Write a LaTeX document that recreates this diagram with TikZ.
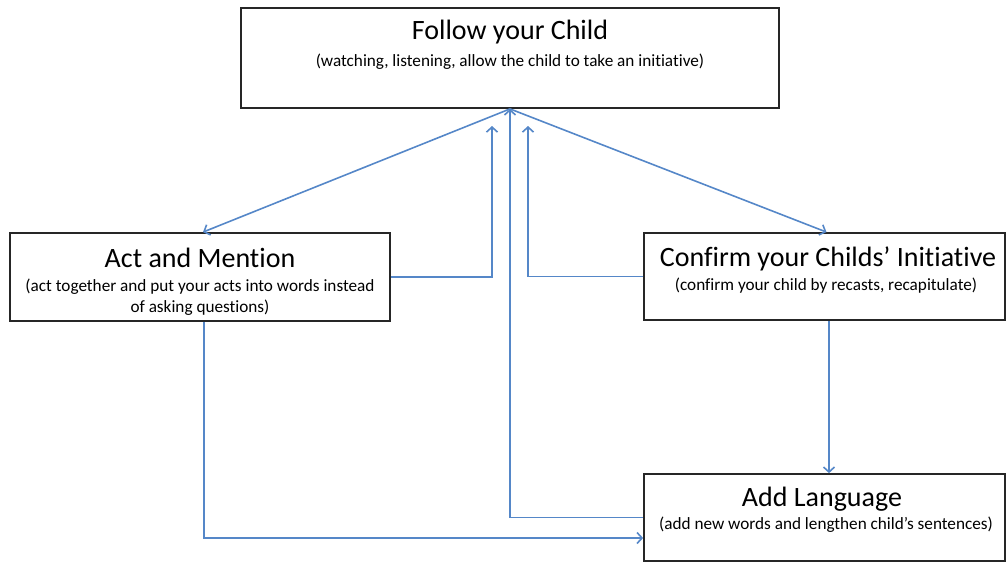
\documentclass[tikz,border=0pt]{standalone}
\usepackage{fontspec}
\setmainfont[Ligatures=NoCommon]{Carlito}
\usetikzlibrary{arrows.meta}
\definecolor{connc}{RGB}{85,135,200}
\begin{document}
\begin{tikzpicture}[x=1pt,y=-1pt,
  box/.style={draw=black!85,line width=1.8pt,rectangle,inner sep=0pt},
  conn/.style={draw=connc,line width=1.6pt,-{Straight Barb[length=5pt,width=11pt,line width=1.6pt]}},
  ttl/.style={font=\fontsize{28}{32}\selectfont},
  sub/.style={font=\fontsize{17.2}{21}\selectfont,align=center}]
\useasboundingbox (0,0) rectangle (1007,563);
% boxes
\node[box,minimum width=538pt,minimum height=100pt] (follow) at (510,58) {};
\node[box,minimum width=380pt,minimum height=88pt] (act) at (200,277) {};
\node[box,minimum width=361pt,minimum height=87pt] (confirm) at (824.5,276.5) {};
\node[box,minimum width=361pt,minimum height=87pt] (add) at (824.5,517.5) {};
% texts
\node[ttl] (ft) at (510,32) {Follow your Child};
\node[sub] (fs) at (510,62) {(watching, listening, allow the child to take an initiative)};
\node[ttl] (at) at (200,258) {Act and Mention};
\node[sub] (as) at (200,297) {(act together and put your acts into words instead\\of asking questions)};
\node[ttl] (ct) at (828,259) {Confirm your Childs’ Initiative};
\node[sub] (cs) at (826,286) {(confirm your child by recasts, recapitulate)};
\node[ttl] (lt) at (822,499) {Add Language};
\node[sub] (ls) at (826,525) {(add new words and lengthen child’s sentences)};
% connectors
\coordinate (a1) at (492,126);
\coordinate (c1) at (528,126);
\draw[conn] (follow.south) -- ([xshift=3pt]act.north);
\draw[conn] (follow.south) -- ([xshift=2pt]confirm.north);
\draw[conn] (act.east) -| (a1);
\draw[conn] (confirm.west) -| (c1);
\draw[conn] (add.west) -| (follow.south);
\draw[conn] ([xshift=4pt]act.south) |- ([yshift=-20.5pt]add.west);
\draw[conn] ([xshift=4.5pt]confirm.south) -- ([xshift=4.5pt]add.north);
\end{tikzpicture}
\end{document}
